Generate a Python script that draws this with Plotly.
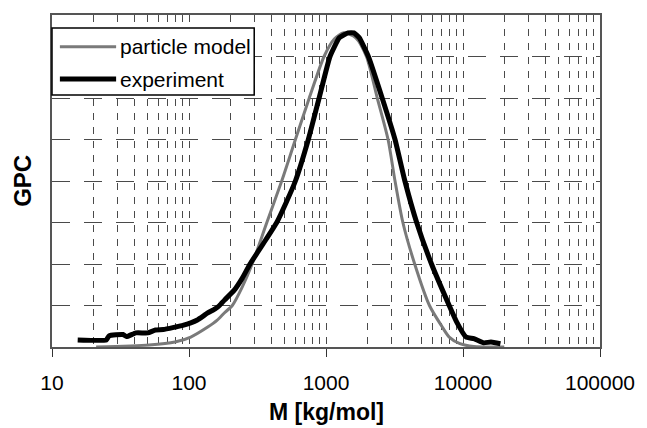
import plotly.graph_objects as go

# ---- data ----
model_M = [21, 51, 79, 103, 137, 160, 181, 207, 245, 289, 370, 475, 598, 755, 968, 1150,
           1347, 1650, 1972, 2367, 2838, 3190, 3640, 4440, 5690, 7000, 7930, 9500, 12000, 20000]
model_gpc = [0.0, 0.05, 0.12, 0.24, 0.48, 0.64, 0.82, 1.0, 1.45, 2.0, 3.0, 4.0, 5.0, 6.0, 7.0, 7.42,
             7.57, 7.45, 7.0, 6.0, 5.0, 4.0, 3.0, 2.0, 1.0, 0.5, 0.24, 0.08, 0.01, 0.0]

exp_M = [15.4, 24.9, 26.1, 33, 35, 40.9, 50, 56.9, 65, 79.3, 90, 103, 115, 137, 155,
         167, 181.5, 214, 245, 279, 350, 437, 515, 598, 743, 891, 1069, 1250, 1450, 1600,
         1750, 2038, 2570, 3190, 3765, 4590, 5890, 7930, 9000, 10520, 12000, 14160, 16000, 18760]
exp_gpc = [0.17, 0.17, 0.27, 0.30, 0.25, 0.34, 0.34, 0.41, 0.42, 0.48, 0.52, 0.58, 0.65,
           0.82, 0.92, 1.0, 1.13, 1.37, 1.66, 2.0, 2.5, 3.0, 3.5, 4.0, 5.0, 6.0, 7.0, 7.45,
           7.57, 7.57, 7.45, 7.0, 6.0, 5.0, 4.0, 3.0, 2.0, 1.0, 0.6, 0.24, 0.2, 0.1, 0.12, 0.08]

x_tickvals = [10, 100, 1000, 10000, 100000]
x_ticktext = ["10", "100", "1000", "10000", "100000"]
legend_names = ["particle model", "experiment"]

GRAY = "#7a7a7a"
GRID = "#4a4a4a"
FONT = "Liberation Sans, Arial, sans-serif"

fig = go.Figure()
fig.add_trace(go.Scatter(x=model_M, y=model_gpc, mode="lines", name=legend_names[0],
                         line=dict(color=GRAY, width=3, shape="spline", smoothing=0.7),
                         showlegend=False))
fig.add_trace(go.Scatter(x=exp_M, y=exp_gpc, mode="lines", name=legend_names[1],
                         line=dict(color="black", width=5, shape="spline", smoothing=0.4),
                         showlegend=False))

fig.update_layout(
    width=647, height=428,
    margin=dict(l=52, r=39, t=15, b=81),
    paper_bgcolor="white", plot_bgcolor="white",
    font=dict(family=FONT, color="black"),
    xaxis=dict(type="log", range=[1, 5], tickvals=x_tickvals, ticktext=x_ticktext,
               tickfont=dict(size=21, family=FONT), ticks="outside", ticklen=8,
               tickcolor="#333", ticklabelstandoff=8,
               showline=True, linecolor="#555", linewidth=1.5, mirror=True,
               showgrid=True, gridcolor=GRID, gridwidth=1, griddash="7px,7px",
               minor=dict(dtick="D1", showgrid=True, gridcolor=GRID, gridwidth=1,
                          griddash="7px,7px", ticks=""),
               zeroline=False),
    yaxis=dict(range=[0, 8], dtick=1, showticklabels=False, ticks="",
               showline=True, linecolor="#555", linewidth=1.5, mirror=True,
               showgrid=True, gridcolor=GRID, gridwidth=1, griddash="18px,14px",
               zeroline=False),
)

# axis titles
fig.add_annotation(text="<b>M [kg/mol]</b>", xref="paper", yref="paper", x=0.5, y=-0.195,
                   xanchor="center", yanchor="middle", showarrow=False,
                   font=dict(size=23, family=FONT))
fig.add_annotation(text="<b>GPC</b>", xref="paper", yref="paper", x=-0.055, y=0.5,
                   xanchor="center", yanchor="middle", showarrow=False, textangle=-90,
                   font=dict(size=24, family=FONT))

# legend box (drawn)
fig.add_shape(type="rect", xref="paper", yref="paper", x0=0.0, x1=0.369, y0=0.759, y1=0.961,
              fillcolor="white", line=dict(color="black", width=1.5), layer="above")
rows = [(0.904, GRAY, 3), (0.807, "black", 5)]
for (yy, col, w), name in zip(rows, legend_names):
    fig.add_shape(type="line", xref="paper", yref="paper", x0=0.0144, x1=0.117, y0=yy, y1=yy,
                  line=dict(color=col, width=w), layer="above")
    fig.add_annotation(text=name, xref="paper", yref="paper", x=0.12, y=yy,
                       xanchor="left", yanchor="middle", showarrow=False,
                       font=dict(size=21, family=FONT))

fig.write_html("out.html")
